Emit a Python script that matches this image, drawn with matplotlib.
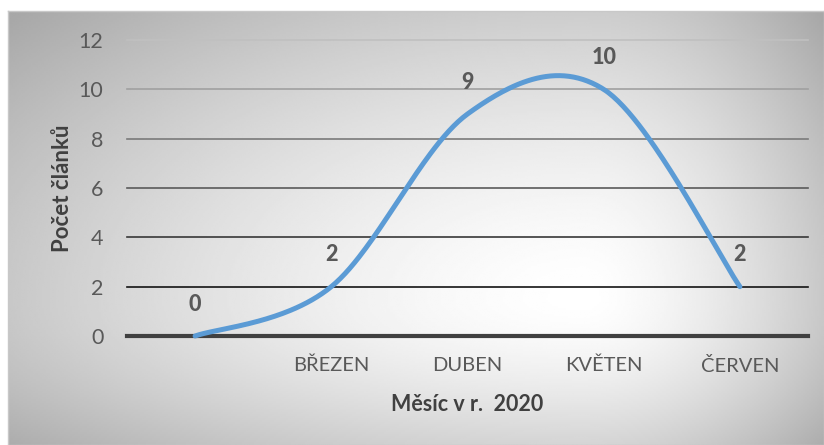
import numpy as np
import matplotlib
matplotlib.use("Agg")
import matplotlib.pyplot as plt

plt.rcParams['font.family'] = ['Lato', 'DejaVu Sans']

# data
mesice = ["", "BŘEZEN", "DUBEN", "KVĚTEN", "ČERVEN"]
pocty = [0, 2, 9, 10, 2]
yticks = [0, 2, 4, 6, 8, 10, 12]
grid_barvy = ["#404040", "#141414", "#383838", "#5a5a5a", "#7a7a7a", "#a0a0a0", "#c0c0c0"]

modra = "#5b9bd5"
seda = "#595959"


def smooth(xs, ys, n=60):
    # bezier smoothing like the office "smoothed line"
    pts = np.column_stack([xs, ys]).astype(float)
    ext = np.vstack([pts[0], pts, pts[-1]])
    out = []
    for i in range(len(pts) - 1):
        p0, p1, p2, p3 = ext[i], ext[i + 1], ext[i + 2], ext[i + 3]
        c1 = p1 + (p2 - p0) / 6.0
        c2 = p2 - (p3 - p1) / 6.0
        t = np.linspace(0, 1, n)[:, None]
        seg = ((1 - t) ** 3) * p1 + 3 * ((1 - t) ** 2) * t * c1 + 3 * (1 - t) * t ** 2 * c2 + t ** 3 * p2
        out.append(seg if i == 0 else seg[1:])
    out = np.vstack(out)
    return out[:, 0], out[:, 1]


W, H = 824, 445
fig = plt.figure(figsize=(W / 100, H / 100), dpi=100)
fig.patch.set_facecolor("white")

# background of chart area with radial gradient
bg = fig.add_axes([8 / W, 0, (W - 8) / W, (H - 11) / H])
gx = np.linspace(8, W, 400)
gy = np.linspace(11, H, 220)
GX, GY = np.meshgrid(gx, gy)
cx, cy = 585, 300
dx = np.where(GX < cx, (GX - cx) / 600, (GX - cx) / 250)
dy = np.where(GY < cy, (GY - cy) / 320, (GY - cy) / 180)
r = np.sqrt(dx ** 2 + dy ** 2)
val = 1 - 0.23 * np.clip(r, 0, 1.3) ** 1.5
bg.imshow(val, cmap="gray", vmin=0, vmax=1, aspect="auto",
          extent=[0, 1, 1, 0], interpolation="bilinear")
bg.set_xlim(0, 1)
bg.set_ylim(1, 0)
bg.set_xticks([])
bg.set_yticks([])
for s in bg.spines.values():
    s.set_color("#c8c8c8")
    s.set_linewidth(1)

ax = fig.add_axes([127 / W, (H - 336) / H, (808 - 127) / W, (336 - 40) / H])
ax.patch.set_alpha(0)

x = np.arange(len(mesice))
for yv, c in zip(yticks, grid_barvy):
    lw = 3.0 if yv == 0 else 1.2
    ax.axhline(yv, color=c, lw=lw, zorder=1, clip_on=False)

sx, sy = smooth(x, pocty)
ax.plot(sx, sy, color=modra, lw=3.6, solid_capstyle="round", zorder=3, clip_on=False)

for xi, v in zip(x, pocty):
    ax.annotate(str(v), (xi, v), xytext=(0, 23), textcoords="offset points",
                ha="center", va="center", fontsize=15.5, fontweight="black", color=seda)

ax.set_xlim(-0.5, len(mesice) - 0.5)
ax.set_ylim(0, 12)
ax.set_yticks(yticks)
ax.set_xticks(x)
ax.set_xticklabels(mesice)
ax.tick_params(axis="y", length=0, pad=17, labelsize=15.5, labelcolor=seda)
ax.tick_params(axis="x", length=0, pad=15, labelsize=14.5, labelcolor=seda)
for s in ax.spines.values():
    s.set_visible(False)

ax.set_xlabel("Měsíc v r.  2020", fontsize=15.5, fontweight="bold", color="#404040", labelpad=14)
ax.set_ylabel("Počet článků", fontsize=16, fontweight="bold", color="#404040", labelpad=4)

fig.savefig("out.png", dpi=100)
